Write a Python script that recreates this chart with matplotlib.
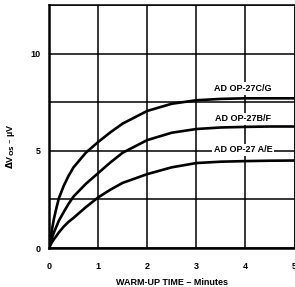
import matplotlib
matplotlib.use("Agg")
import matplotlib.pyplot as plt

# Data
t_min = [0, 0.02, 0.05, 0.1, 0.15, 0.2, 0.3, 0.4, 0.5, 0.75, 1, 1.25, 1.5, 2, 2.5, 3, 3.5, 4, 4.5, 5]
v_cg = [0, 0.35, 0.8, 1.5, 2.05, 2.55, 3.2, 3.72, 4.15, 4.9, 5.45, 5.95, 6.4, 7.05, 7.42, 7.6, 7.67, 7.7, 7.7, 7.7]
v_bf = [0, 0.2, 0.45, 0.8, 1.1, 1.4, 1.85, 2.28, 2.65, 3.3, 3.85, 4.4, 4.9, 5.55, 5.93, 6.12, 6.2, 6.23, 6.25, 6.25]
v_ae = [0, 0.1, 0.25, 0.45, 0.62, 0.8, 1.1, 1.35, 1.55, 2.1, 2.6, 3.0, 3.35, 3.8, 4.15, 4.37, 4.44, 4.47, 4.49, 4.5]
series_labels = ["AD OP-27C/G", "AD OP-27B/F", "AD OP-27 A/E"]
label_pos = [(3.95, 8.2), (3.95, 6.65), (3.95, 5.05)]
x_ticks = [0, 1, 2, 3, 4, 5]
x_ticklabels = ["0", "1", "2", "3", "4", "5"]
y_ticks = [0, 2.5, 5, 7.5, 10, 12.5]
y_ticklabels = ["0", "", "5", "", "10", ""]

plt.rcParams['font.family'] = ['Liberation Sans', 'DejaVu Sans']
plt.rcParams['font.weight'] = 'bold'

fig = plt.figure(figsize=(2.95, 2.87), dpi=100)
ax = fig.add_axes([49/295, 39/287, 245.5/295, 243/287])

for v in (v_cg, v_bf, v_ae):
    ax.plot(t_min, v, color='black', lw=1.9, zorder=3, solid_capstyle='round',
            solid_joinstyle='round')

for lab, (x, y) in zip(series_labels, label_pos):
    ax.text(x, y, lab, ha='center', va='center', fontsize=6.5, fontweight='bold',
            zorder=4, bbox=dict(facecolor='white', edgecolor='none', pad=1.2))

ax.set_xlim(0, 5)
ax.set_ylim(0, 12.5)
ax.set_xticks(x_ticks)
ax.set_xticklabels(x_ticklabels)
ax.set_yticks(y_ticks)
ax.set_yticklabels(y_ticklabels)
ax.grid(True, color='black', lw=1.1)
ax.set_axisbelow(True)
ax.tick_params(axis='both', length=0, labelsize=6.5)
ax.tick_params(axis='x', pad=10)
ax.tick_params(axis='y', pad=6)
for lab in ax.get_xticklabels() + ax.get_yticklabels():
    lab.set_fontweight('bold')
for name, sp in ax.spines.items():
    sp.set_linewidth(1.1)
ax.spines['left'].set_linewidth(1.8)
ax.spines['bottom'].set_linewidth(1.8)

ax.set_xlabel("WARM-UP TIME – Minutes", fontsize=6.5, fontweight='bold', labelpad=5)
ax.set_ylabel(r"$\Delta$V$_{\mathrm{OS}}$ – µV", fontsize=6.5, fontweight='bold')
ax.yaxis.set_label_coords(-0.13, 0.42)

fig.savefig("out.png", dpi=100, facecolor='white')
